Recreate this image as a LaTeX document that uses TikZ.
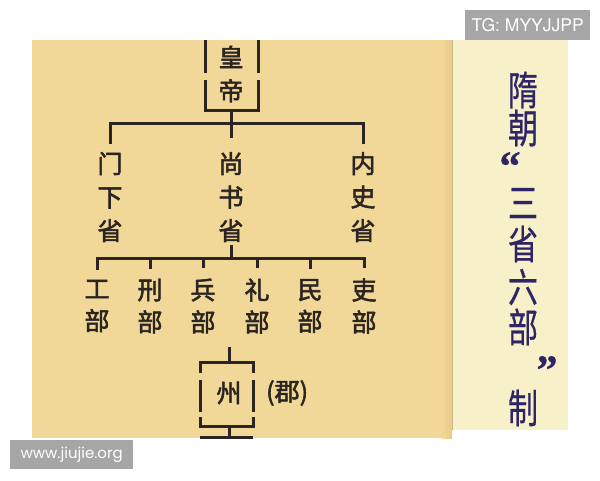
\documentclass[tikz,border=0pt]{standalone}
\usepackage{fontspec}
\usepackage{graphicx}
\setmainfont{TeX Gyre Heros}
\newfontfamily\cjk[FakeBold=2.2]{Noto Sans CJK SC}
\newfontfamily\cjktitle[FakeBold=0.6]{Noto Sans CJK SC}
\newfontfamily\quotefont[FakeBold=1]{Liberation Serif}
\newfontfamily\webfont{Poppins}
\definecolor{panel}{HTML}{F2D898}
\definecolor{panelshade}{HTML}{EBC985}
\definecolor{sidepanel}{HTML}{F8F0C8}
\definecolor{sepline}{HTML}{C8B88E}
\definecolor{ink}{HTML}{2A2520}
\definecolor{titleink}{HTML}{2E2566}
\definecolor{wmgray}{HTML}{A6A6A6}
\tikzset{
  conn/.style={draw=ink, line width=3pt},
  col/.style={font=\cjk\fontsize{25pt}{33.5pt}\selectfont, text=ink, align=center, inner sep=0pt},
  dept/.style={font=\cjk\fontsize{25pt}{32pt}\selectfont, text=ink, align=center, inner sep=0pt},
  titlechr/.style={font=\cjktitle\fontsize{40pt}{40pt}\selectfont, text=titleink, inner sep=0pt},
  quotechr/.style={font=\quotefont\bfseries\fontsize{42pt}{42pt}\selectfont, text=titleink, inner sep=0pt, anchor=north},
  wmbox/.style={fill=wmgray, text=white, inner sep=0pt, anchor=north west}
}
\begin{document}
\begin{tikzpicture}[x=1pt,y=-1pt]
\useasboundingbox (0,0) rectangle (600,480);
% panels
\fill[panel] (32,40) rectangle (452,438);
\shade[left color=panel, right color=panelshade] (442,40) rectangle (452,438);
\fill[sidepanel] (453,40) rectangle (568,430);
\draw[sepline, line width=1.2pt] (452.6,40) -- (452.6,430);

% emperor
\node[col] (emp) at (231,74) {皇\\帝};
\draw[conn] (205,40)--(205,73);
\draw[conn] (258,40)--(258,73);
\draw[conn] (205,80)--(205,110)--(258,110)--(258,80);
\coordinate (empbot) at (231,110);
\coordinate (j1) at (231,123);
\draw[conn] (empbot)--(j1);

% three departments
\node[col] (menxia) at (110,197) {门\\下\\省};
\node[col] (shangshu) at (231,197) {尚\\书\\省};
\node[col] (neishi) at (363,197) {内\\史\\省};
\draw[conn] ([yshift=8pt]menxia.north) |- (j1) -| ([yshift=8pt]neishi.north);
\draw[conn] (j1)--([yshift=14pt]shangshu.north);

% six ministries
\node[dept] (gong) at (97,306) {工\\部};
\node[dept] (xing) at (150,306) {刑\\部};
\node[dept] (bing) at (203,306) {兵\\部};
\node[dept] (li) at (257,306) {礼\\部};
\node[dept] (min) at (310,306) {民\\部};
\node[dept] (libu) at (364,306) {吏\\部};
\coordinate (j2) at (231,258);
\draw[conn] ([yshift=-3pt]shangshu.south)--(j2);
\draw[conn] ([yshift=10pt]gong.north) |- (j2) -| ([yshift=10pt]libu.north);
\draw[conn] ([yshift=10pt]xing.north)--(xing.north |- j2);
\draw[conn] ([yshift=10pt]bing.north)--(bing.north |- j2);
\draw[conn] ([yshift=10pt]li.north)--(li.north |- j2);
\draw[conn] ([yshift=10pt]min.north)--(min.north |- j2);

% prefecture
\node[col] (zhou) at (229,393) {州};
\node[col, anchor=west] (jun) at (266,393) {(郡)};
\coordinate (ztop) at (229,347);
\draw[conn] (ztop)--++(0,15);
\draw[conn] (200,373)--(200,362)--(253,362)--(253,373);
\draw[conn] (200,380)--(200,412);
\draw[conn] (253,380)--(253,412);
\draw[conn] (200,417)--(200,426)--(253,426)--(253,417);
\draw[conn] (229,426)--++(0,11);
\draw[conn] (200,437)--(253,437);

% title
\node[titlechr] (t1) at (523,90) {\scalebox{0.75}[1]{隋}};
\node[titlechr] (t2) at (523,128) {\scalebox{0.75}[1]{朝}};
\node[quotechr] (t3) at (510,152) {“};
\node[titlechr] (t4) at (523,203) {\scalebox{0.75}[1]{三}};
\node[titlechr] (t5) at (523,244) {\scalebox{0.75}[1]{省}};
\node[titlechr] (t6) at (523,287) {\scalebox{0.75}[1]{六}};
\node[titlechr] (t7) at (523,327) {\scalebox{0.75}[1]{部}};
\node[quotechr] (t8) at (547,356) {”};
\node[titlechr] (t9) at (523,408) {\scalebox{0.75}[1]{制}};

% watermarks
\node[wmbox, minimum width=125pt, minimum height=30pt, font=\fontsize{17.5pt}{17.5pt}\selectfont] (tg) at (465,10) {TG: MYYJJPP};
\node[wmbox, minimum width=123pt, minimum height=29pt, font=\webfont\fontsize{15pt}{15pt}\selectfont] (web) at (10,440) {www.jiujie.org};
\end{tikzpicture}
\end{document}
